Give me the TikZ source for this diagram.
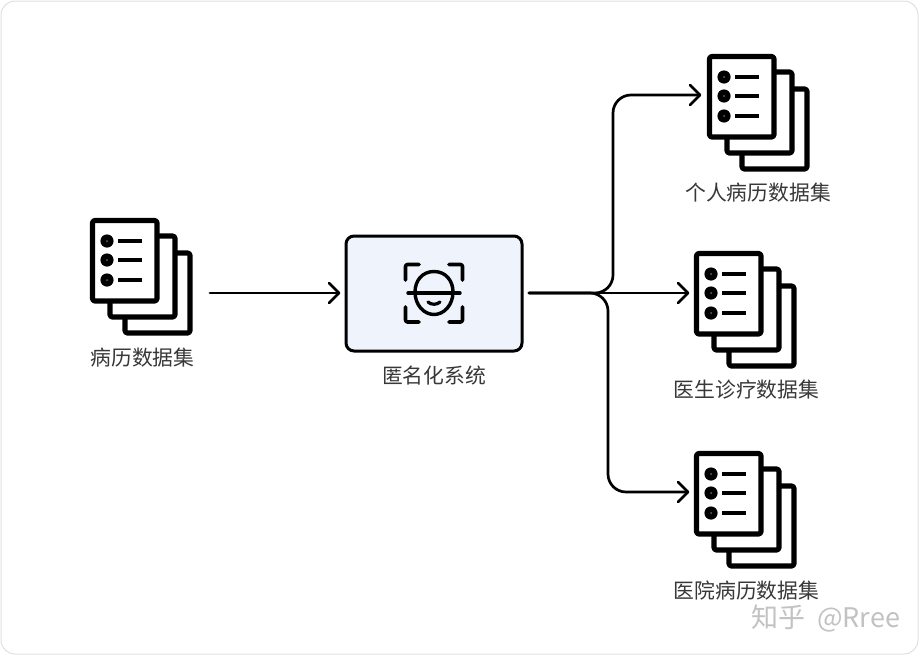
\documentclass[tikz,border=0pt]{standalone}
\usepackage{fontspec}
\newfontfamily\cjk{Noto Sans CJK SC}
\definecolor{mysys}{HTML}{EEF3FC}
\begin{document}
\begin{tikzpicture}[x=1pt,y=-1pt,line join=round,
  ink/.style={draw=black,line width=5.2pt},
  wire/.style={draw=black,line width=2.7pt,line cap=round},
  head/.style={draw=black,line width=2.7pt,line cap=round},
  lbl/.style={font=\cjk\fontsize{20.8}{24}\selectfont,text=black!78,inner sep=0pt},
  wmark/.style={font=\cjk\fontsize{27}{30}\selectfont,text=black!24,inner sep=0pt},
  doclist/.pic={
    \draw[ink,rounded corners=2.5pt,fill=white] (125,253)--(190,253)--(190,333)--(125,333)--cycle;
    \draw[ink,rounded corners=2.5pt,fill=white] (110,236)--(175,236)--(175,317)--(110,317)--cycle;
    \draw[ink,rounded corners=2.5pt,fill=white] (92.5,220.5)--(157,220.5)--(157,301)--(92.5,301)--cycle;
    \foreach \yy in {241,260,280}{
      \fill[black] (107,\yy) circle (6.6pt);
      \fill[black!60] (107,\yy) circle (1pt);
      \draw[black,line width=4.6pt] (118,\yy)--(142,\yy);
    }
  }]
\useasboundingbox (0,0) rectangle (923,656);
\fill[white] (0,0) rectangle (923,656);
\draw[black!12,line width=1pt,rounded corners=14pt] (1,1) rectangle (918,654);

% dataset icons
\pic at (0,0) {doclist};
\pic at (617,-164) {doclist};
\pic at (604,33) {doclist};
\pic at (604,233) {doclist};

% labels
\node[lbl] (src) at (142.5,357.5) {病历数据集};
\node[lbl] (sys) at (434,375.5) {匿名化系统};
\node[lbl] (t1) at (758,192.5) {个人病历数据集};
\node[lbl] (t2) at (746.5,389.5) {医生诊疗数据集};
\node[lbl] (t3) at (746.5,590.5) {医院病历数据集};
\node[wmark,anchor=west] (wm) at (751,618) {知乎\hspace{12pt}@Rree};

% system box
\node[draw=black,line width=3pt,fill=mysys,rounded corners=8pt,minimum width=176pt,minimum height=115pt,inner sep=0pt] (box) at (434,293.5) {};

% face icon
\draw[black,line width=3.6pt,line cap=round,rounded corners=2pt]
  (405.5,280)--(405.5,264.5)--(419,264.5)
  (449,264.5)--(462.5,264.5)--(462.5,280)
  (405.5,307)--(405.5,322)--(419,322)
  (449,322)--(462.5,322)--(462.5,307);
\draw[black,line width=3.4pt] (434,271.5) .. controls (446,271.5) and (453,281) .. (453,292)
  .. controls (453,305) and (444,314.5) .. (434,314.5)
  .. controls (424,314.5) and (415,305) .. (415,292)
  .. controls (415,281) and (422,271.5) .. (434,271.5) -- cycle;
\draw[black,line width=3.4pt,line cap=round] (408,293)--(460,293);
\draw[black,line width=3.2pt,line cap=round] (428,302) .. controls (431,305) and (437,305) .. (440,302);

% connectors
\coordinate (srcout) at (210,293);
\coordinate (boxin) at (339,293);
\coordinate (boxout) at (529,293);
\coordinate (bus) at (613,293);
\coordinate (bus2) at (608,293);
\coordinate (a1) at (700,95);
\coordinate (a2) at (688,293);
\coordinate (a3) at (688,492);
\draw[wire] (srcout)--(boxin);
\draw[head] (329,283)--(boxin)--(329,303);
\draw[wire] (boxout)--(a2);
\draw[head] (678,283)--(a2)--(678,303);
\draw[wire,rounded corners=18pt] (boxout)--(bus)--(bus |- a1)--(a1);
\draw[head] (690,85)--(a1)--(690,105);
\draw[wire,rounded corners=18pt] (boxout)--(bus2)--(bus2 |- a3)--(a3);
\draw[head] (678,482)--(a3)--(678,502);
\end{tikzpicture}
\end{document}
